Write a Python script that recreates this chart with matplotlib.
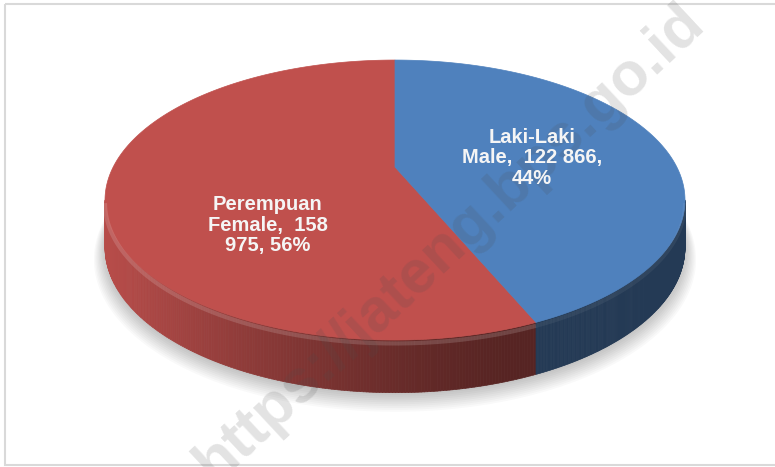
import numpy as np
import matplotlib.pyplot as plt
from matplotlib.patches import Polygon, Rectangle
from matplotlib.collections import PolyCollection

# data
categories = ['Perempuan Female', 'Laki-Laki Male']
values = [158975, 122866]
labels = ['Perempuan\nFemale,  158\n975, 56%', 'Laki-Laki\nMale,  122 866,\n44%']
colors = ['#C0504D', '#4F81BD']
watermark = 'https://jateng.bps.go.id'

# pie geometry (pixels, perspective tilt)
CX, CY = 395, 167
A, B, K = 281.8, 132.2, 0.236
DEPTH = 46


def proj(t, drop=0.0, r=1.0):
    u, v = r * np.cos(t), r * np.sin(t)
    w = 1 + K * v
    return CX + A * u / w, CY - B * v / w + drop / np.sqrt(w)


def shade(t):
    c = np.cos(t - np.radians(200))
    return 0.45 + 0.5 * np.clip(c, 0, None) ** 1.5


fig = plt.figure(figsize=(7.75, 4.67), dpi=100)
ax = fig.add_axes([0, 0, 1, 1])
ax.set_xlim(0, 775)
ax.set_ylim(467, 0)
ax.axis('off')

# soft shadow under the pie
tt = np.linspace(0, 2 * np.pi, 300)
for i in range(10):
    x, y = proj(tt, DEPTH + 2 + i * 0.8, 1.0 + 0.004 * i)
    ax.add_patch(Polygon(np.column_stack([x, y]), closed=True, color='black',
                         alpha=0.025, lw=0))

# slice angles
fracs = np.array(values) / sum(values)
starts = np.pi / 2 + 2 * np.pi * np.concatenate([[0], np.cumsum(fracs)[:-1]])
ends = starts + 2 * np.pi * fracs
vis_lo = np.pi + np.arcsin(K)
vis_hi = 2 * np.pi - np.arcsin(K)

# sides
for i, (s, e, col) in enumerate(zip(starts, ends, colors)):
    lo, hi = max(s, vis_lo), min(e, vis_hi)
    if hi <= lo:
        continue
    ts = np.linspace(lo, hi, 200)
    base = np.array(plt.matplotlib.colors.to_rgb(col))
    quads, fcs = [], []
    for a, b in zip(ts[:-1], ts[1:]):
        x0, y0 = proj(a)
        x1, y1 = proj(b)
        x2, y2 = proj(b, DEPTH)
        x3, y3 = proj(a, DEPTH)
        quads.append([(x0, y0), (x1, y1), (x2, y2), (x3, y3)])
        fcs.append(np.clip(base * shade((a + b) / 2), 0, 1))
    ax.add_collection(PolyCollection(quads, facecolors=fcs, edgecolors=fcs, linewidths=0.5))
    # rim highlight
    hx, hy = proj(ts, 3)
    ax.plot(hx, hy, color='white', alpha=0.15 if i == 0 else 0.06, lw=3,
            solid_capstyle='butt')

# tops
for s, e, col in zip(starts, ends, colors):
    ts = np.linspace(s, e, 300)
    x, y = proj(ts)
    pts = np.column_stack([np.concatenate([[CX], x]), np.concatenate([[CY], y])])
    ax.add_patch(Polygon(pts, closed=True, facecolor=col, edgecolor=col, lw=0.5))

# watermark
ax.text(450, 243, watermark, rotation=43, rotation_mode='anchor', ha='center', va='center',
        fontsize=44, fontweight='bold', family='Liberation Sans', color='0.3', alpha=0.16)

# labels
label_pos = [(268, 225), (532, 158)]
for (lx, ly), txt in zip(label_pos, labels):
    ax.text(lx, ly, txt, ha='center', va='center', color='#F5F5F5', fontsize=14.5,
            fontweight='bold', family='Liberation Sans', linespacing=1.12)

# chart border
ax.add_patch(Rectangle((5, 4), 800, 461, fill=False, edgecolor='#D9D9D9', lw=1.5, clip_on=False))

fig.savefig('out.png', dpi=100)
